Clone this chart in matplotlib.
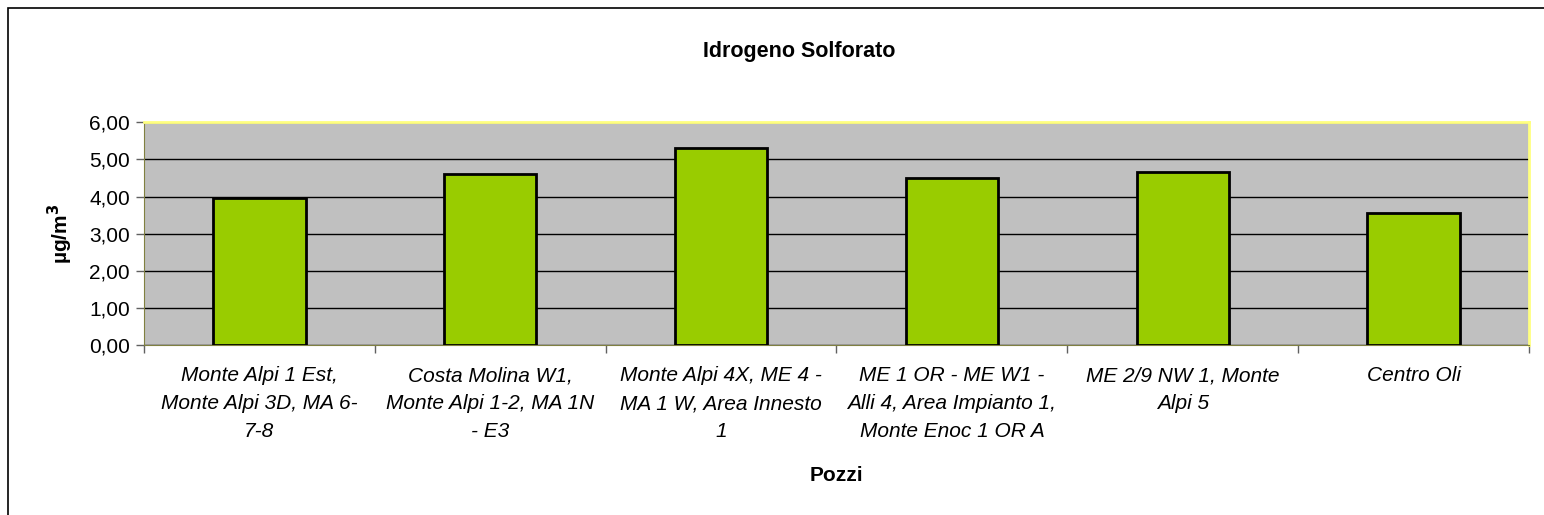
import numpy as np
import matplotlib.pyplot as plt
from matplotlib.patches import Rectangle

plt.rcParams['font.family'] = ['Liberation Sans', 'DejaVu Sans']

# Dati: pozzi e concentrazioni di H2S
pozzi = [
    "Monte Alpi 1 Est,\nMonte Alpi 3D, MA 6-\n7-8",
    "Costa Molina W1,\nMonte Alpi 1-2, MA 1N\n- E3",
    "Monte Alpi 4X, ME 4 -\nMA 1 W, Area Innesto\n1",
    "ME 1 OR - ME W1 -\nAlli 4, Area Impianto 1,\nMonte Enoc 1 OR A",
    "ME 2/9 NW 1, Monte\nAlpi 5",
    "Centro Oli",
]
valori = [3.97, 4.60, 5.30, 4.50, 4.67, 3.55]
y_ticks = [0, 1, 2, 3, 4, 5, 6]

W, H = 1544, 515
fig = plt.figure(figsize=(W / 100, H / 100), dpi=100)
ax = fig.add_axes([144 / W, 1 - 345.3 / H, (1529 - 144) / W, (345.3 - 122.3) / H])

x = np.arange(len(pozzi))
ax.set_facecolor('#c0c0c0')
ax.bar(x, valori, width=0.4, color='#99cc00', edgecolor='black', linewidth=2, zorder=3)

ax.set_xlim(-0.5, len(pozzi) - 0.5)
ax.set_ylim(0, 6)
ax.set_yticks(y_ticks)
ax.set_yticklabels([f"{v:.2f}".replace('.', ',') for v in y_ticks], fontsize=15)
ax.yaxis.grid(True, color='black', linewidth=1, zorder=1)
ax.set_axisbelow(True)

ax.set_xticks(x)
ax.set_xticklabels(pozzi, fontsize=15, style='italic', linespacing=1.6)
ax.set_xticks(np.arange(-0.5, len(pozzi)), minor=True)
ax.tick_params(axis='x', which='major', length=0, pad=15)
ax.tick_params(axis='x', which='minor', length=6, color='#606060', width=1)
ax.tick_params(axis='y', length=6, color='#606060', width=1, pad=4)

for s in ['left', 'bottom']:
    ax.spines[s].set_color('#808040')
for s in ['top', 'right']:
    ax.spines[s].set_color('#ffff80')
    ax.spines[s].set_linewidth(2)

ax.set_ylabel("µg/m$^{\\mathbf{3}}$", fontsize=15, fontweight='bold', labelpad=10)
ax.set_xlabel("Pozzi", fontsize=15, fontweight='bold', labelpad=18)
fig.text(799 / W, 1 - 52 / H, "Idrogeno Solforato", fontsize=15.5, fontweight='bold',
         ha='center', va='center')

# cornice del grafico
fig.patches.append(Rectangle((8 / W, -0.1), 1.2, 1.1 - 8 / H, transform=fig.transFigure,
                             fill=False, edgecolor='black', linewidth=1.2))

fig.savefig("out.png", dpi=100)
